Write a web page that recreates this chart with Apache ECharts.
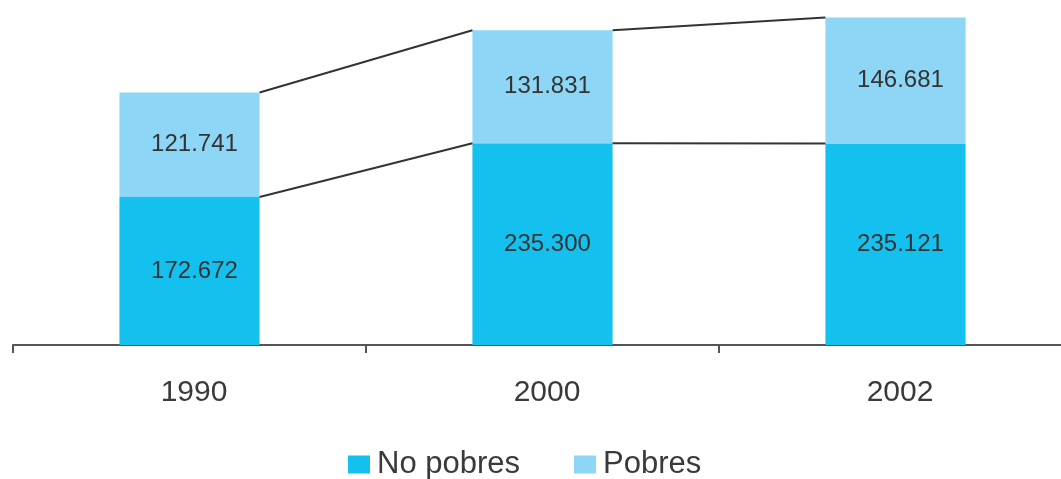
<!DOCTYPE html>
<html>
<head>
<meta charset="utf-8">
<script src="https://cdn.jsdelivr.net/npm/echarts@6/dist/echarts.min.js"></script>
<style>html,body{margin:0;padding:0;background:#fff;}#c{width:1061px;height:479px;}</style>
</head>
<body>
<div id="c"></div>
<script>
const categories = ['1990', '2000', '2002'];
const noPobres = [172.672, 235.300, 235.121];
const pobres = [121.741, 131.831, 146.681];
const seriesNames = ['No pobres', 'Pobres'];

const totals = noPobres.map((v, i) => v + pobres[i]);
const BAR_FRAC = 0.397;
const fmt = p => p.value.toFixed(3);
const valLabel = { show: true, position: 'inside', color: '#333', fontSize: 24, offset: [5, 0], formatter: fmt };

const chart = echarts.init(document.getElementById('c'));
chart.setOption({
  animation: false,
  textStyle: { fontFamily: 'Liberation Sans, Arial, sans-serif' },
  grid: { left: 13, top: 2, width: 1059, height: 343, containLabel: false, outerBoundsMode: 'none' },
  xAxis: {
    type: 'category',
    data: categories,
    axisLine: { lineStyle: { color: '#555', width: 2 } },
    axisTick: { show: true, length: 8, lineStyle: { color: '#555', width: 2 } },
    axisLabel: { color: '#3a3a3a', fontSize: 30, margin: 33, padding: [0, 0, 0, 9] }
  },
  yAxis: { type: 'value', min: 0, max: 400, show: false, splitLine: { show: false } },
  legend: {
    data: seriesNames,
    top: 444,
    left: 343,
    itemWidth: 22, itemHeight: 18, itemGap: 54,
    icon: 'rect',
    textStyle: { color: '#3a3a3a', fontSize: 31, padding: [0, 0, 0, 2] }
  },
  series: [
    {
      name: seriesNames[0], type: 'bar', stack: 's', data: noPobres,
      barWidth: (BAR_FRAC * 100) + '%',
      itemStyle: { color: '#14C0EE' },
      label: valLabel
    },
    {
      name: seriesNames[1], type: 'bar', stack: 's', data: pobres,
      itemStyle: { color: '#8ED6F5' },
      label: valLabel
    },
    {
      type: 'custom',
      silent: true,
      z: 5,
      data: categories.slice(0, -1).map((c, i) => [i]),
      renderItem: function (params, api) {
        const i = api.value(0);
        const bw = api.size([1, 0])[0] * BAR_FRAC;
        const children = [];
        [noPobres, totals].forEach(arr => {
          const a = api.coord([i, arr[i]]);
          const b = api.coord([i + 1, arr[i + 1]]);
          children.push({
            type: 'line',
            shape: { x1: a[0] + bw / 2, y1: a[1], x2: b[0] - bw / 2, y2: b[1] },
            style: { stroke: '#333', lineWidth: 2 }
          });
        });
        return { type: 'group', children: children };
      }
    }
  ]
});
</script>
</body>
</html>
